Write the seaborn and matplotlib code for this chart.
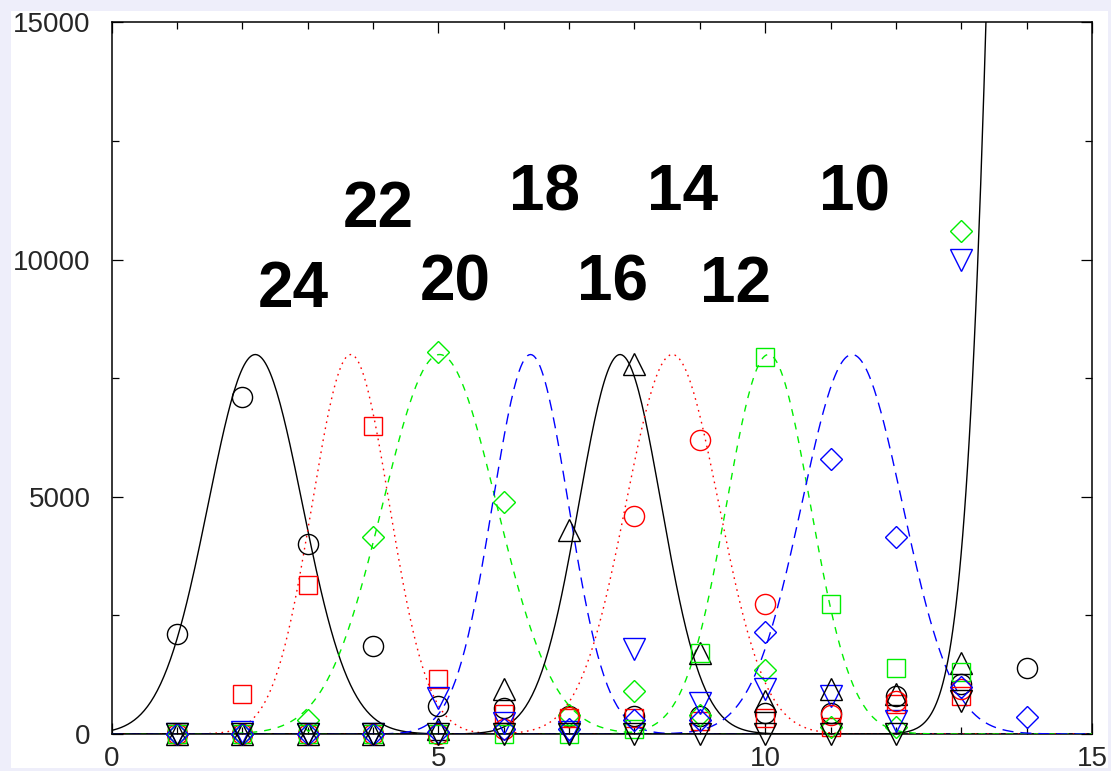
import numpy as np
import pandas as pd
import matplotlib
matplotlib.use("Agg")
import matplotlib.pyplot as plt
from matplotlib.patches import Rectangle
import seaborn as sns

# ---------------- data ----------------
x_points = [1, 2, 3, 4, 5, 6, 7, 8, 9, 10, 11, 12, 13, 14]
nan = np.nan
s1_black_circle = [2100, 7100, 4000, 1850, 600, 550, 380, 380, 380, 440, 440, 800, 1050, 1400]
s2_red_square = [0, 850, 3150, 6500, 1150, 420, 340, 340, 270, 330, 150, 630, 800, nan]
s3_green_diamond = [0, 0, 300, 4150, 8050, 4900, 400, 900, 400, 1350, 150, 150, 10600, nan]
s4_blue_tridown = [0, 50, 0, 0, 750, 230, 50, 1800, 650, 950, 800, 280, 10000, nan]
s5_black_triup = [0, 0, 0, 0, 100, 950, 4300, 7800, 1700, 700, 950, 850, 1500, nan]
s6_red_circle = [0, 0, 0, 0, 0, 100, 350, 4600, 6200, 2750, 400, 700, 950, nan]
s7_green_square = [0, 0, 0, 0, 0, 0, 0, 100, 1700, 7950, 2750, 1400, 1300, nan]
s8_blue_diamond = [0, 0, 0, 0, 50, 100, 100, 300, 300, 2150, 5800, 4150, 1000, 350]
s9_black_tridown = [0, 0, 0, 0, 0, 0, 0, 0, 0, 0, 0, 0, 700, nan]

# fitted peak curves (gaussian parameters)
curve_center = [2.20, 3.66, 5.02, 6.41, 7.78, 8.58, 10.05, 11.33, 14.49]
curve_amp = [8000, 8000, 8000, 8000, 8000, 8000, 8000, 8000, 83600]
curve_sigma = [0.72, 0.59, 0.87, 0.58, 0.63, 0.71, 0.64, 0.77, 0.60]

label_text = ["24", "22", "20", "18", "16", "14", "12", "10"]
label_x = [2.78, 4.08, 5.26, 6.63, 7.66, 8.73, 9.55, 11.37]
label_y = [9350, 11050, 9500, 11400, 9500, 11400, 9460, 11400]

# ---------------- style ----------------
sns.set_style("ticks")
plt.rcParams["font.family"] = ["Liberation Sans", "DejaVu Sans"]

BLACK, RED, GREEN, BLUE = "#000000", "#ff0000", "#00ee00", "#0000ff"
curve_colors = [BLACK, RED, GREEN, BLUE, BLACK, RED, GREEN, BLUE, BLACK]
curve_dash = ["", (1.2, 3.2), (5, 5), (8, 5), "", (1.2, 3.2), (5, 5), (8, 5), ""]

series = [s1_black_circle, s2_red_square, s3_green_diamond, s4_blue_tridown,
          s5_black_triup, s6_red_circle, s7_green_square, s8_blue_diamond,
          s9_black_tridown]
markers = ["o", "s", "D", "v", "^", "o", "s", "D", "v"]
msizes = {"o": 14.5, "s": 13.0, "D": 11.0, "v": 15.5, "^": 15.5}

fig = plt.figure(figsize=(11.11, 7.71), dpi=100, facecolor="#eeeefa")
fig.patches.append(Rectangle((11 / 1111, 3 / 771), 1097 / 1111, 757 / 771,
                             transform=fig.transFigure, facecolor="white",
                             edgecolor="none", zorder=-10))
ax = fig.add_axes([111.5 / 1111, 1 - 734 / 771, (1092 - 111.5) / 1111, (734 - 22.5) / 771])
ax.set_facecolor("white")

# curves
xs = np.linspace(0, 15, 600)
rows = []
for i, (c, a, s) in enumerate(zip(curve_center, curve_amp, curve_sigma)):
    ys = a * np.exp(-(xs - c) ** 2 / (2 * s ** 2))
    rows.append(pd.DataFrame({"x": xs, "y": ys, "curve": f"c{i}"}))
curves = pd.concat(rows, ignore_index=True)
order = [f"c{i}" for i in range(9)]
sns.lineplot(data=curves, x="x", y="y", hue="curve", style="curve",
             hue_order=order, style_order=order,
             palette=dict(zip(order, curve_colors)),
             dashes=dict(zip(order, curve_dash)),
             linewidth=1.0, legend=False, errorbar=None, sort=False,
             estimator=None, ax=ax, zorder=3)

# points
for vals, m, col in zip(series, markers, curve_colors):
    sns.lineplot(x=x_points, y=vals, marker=m, linestyle="none", color=col,
                 markerfacecolor="none", markeredgecolor=col,
                 markersize=msizes[m], markeredgewidth=1.0,
                 errorbar=None, estimator=None, ax=ax, clip_on=False, zorder=4)

for t, lx, ly in zip(label_text, label_x, label_y):
    ax.text(lx, ly, t, fontsize=46, fontweight="bold", ha="center", va="center",
            color="black", zorder=5)

ax.set_xlim(0, 15)
ax.set_ylim(0, 15000)
ax.set_xticks([0, 5, 10, 15])
ax.set_xticks(np.arange(0, 16, 1), minor=True)
ax.set_yticks([0, 5000, 10000, 15000])
ax.set_yticks(np.arange(0, 15001, 2500), minor=True)
ax.set_xticklabels(["0", "5", "10", "15"])
ax.set_yticklabels(["0", "5000", "10000", "15000"])
ax.tick_params(which="both", direction="in", top=True, right=True,
               width=0.9, color="black", labelsize=20)
ax.tick_params(which="major", length=8)
ax.tick_params(which="minor", length=4.8)
ax.tick_params(axis="y", pad=15)
ax.tick_params(axis="x", pad=9)
for sp in ax.spines.values():
    sp.set_linewidth(1.1)
    sp.set_color("black")
ax.set_xlabel("")
ax.set_ylabel("")

fig.savefig("out.png", dpi=100, facecolor=fig.get_facecolor())
